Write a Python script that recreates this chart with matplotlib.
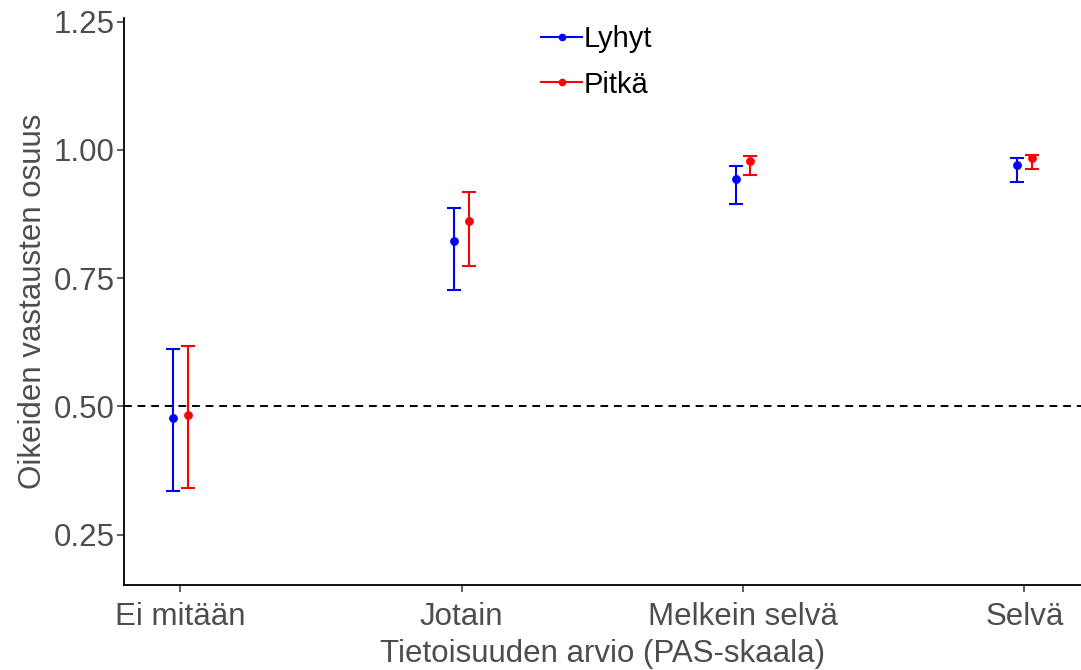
import numpy as np
import matplotlib
matplotlib.use("Agg")
import matplotlib.pyplot as plt

plt.rcParams["font.family"] = ["Liberation Sans", "DejaVu Sans"]

categories = ["Ei mitään", "Jotain", "Melkein selvä", "Selvä"]

# mean proportion of correct answers with lower/upper interval bounds
lyhyt_mean = [0.478, 0.822, 0.943, 0.971]
lyhyt_low = [0.336, 0.727, 0.895, 0.938]
lyhyt_high = [0.612, 0.886, 0.969, 0.984]

pitka_mean = [0.483, 0.861, 0.979, 0.984]
pitka_low = [0.341, 0.774, 0.951, 0.962]
pitka_high = [0.618, 0.918, 0.989, 0.990]

yticks = [0.25, 0.50, 0.75, 1.00, 1.25]

FS = 22.5


def draw_group(ax, xpos, mean, low, high, color, label):
    mean = np.asarray(mean)
    err = np.vstack([mean - np.asarray(low), np.asarray(high) - mean])
    ax.errorbar(xpos, mean, yerr=err, fmt="o", color=color, ecolor=color,
                markersize=5.3, elinewidth=1.5, capsize=4.7, capthick=1.5,
                label=label, zorder=3)


def main():
    fig = plt.figure(figsize=(10.81, 6.70), dpi=100)
    ax = fig.add_axes([0.1147, 0.127, 0.885, 0.846])

    x = np.arange(1, len(categories) + 1)
    dodge = 0.026

    ax.axhline(0.5, color="black", linestyle=(0, (4, 3)), linewidth=1.4, zorder=1)

    draw_group(ax, x - dodge, lyhyt_mean, lyhyt_low, lyhyt_high, "#0000ff", "Lyhyt")
    draw_group(ax, x + dodge, pitka_mean, pitka_low, pitka_high, "#ff0000", "Pitkä")

    ax.set_xlim(0.8, 4.2)
    ax.set_ylim(0.152, 1.257)
    ax.set_xticks(x)
    ax.set_xticklabels(categories)
    ax.set_yticks(yticks)
    ax.set_yticklabels([f"{v:.2f}" for v in yticks])

    for side in ("top", "right"):
        ax.spines[side].set_visible(False)
    for side in ("left", "bottom"):
        ax.spines[side].set_linewidth(1.3)
        ax.spines[side].set_color("black")

    ax.tick_params(axis="both", length=5, width=1.1, color="#333333",
                   labelsize=FS, labelcolor="#4d4d4d")
    ax.tick_params(axis="x", pad=7.5)
    ax.tick_params(axis="y", pad=2)

    ax.set_xlabel("Tietoisuuden arvio (PAS-skaala)", fontsize=FS,
                  color="#4d4d4d", labelpad=5)
    ax.set_ylabel("Oikeiden vastausten osuus", fontsize=FS,
                  color="#4d4d4d", labelpad=4)

    handles = []
    for color, label in (("#0000ff", "Lyhyt"), ("#ff0000", "Pitkä")):
        h, = ax.plot([], [], color=color, marker="o", markersize=4.5,
                     linewidth=1.5, label=label)
        handles.append(h)
    ax.legend(handles=handles, loc="upper center", bbox_to_anchor=(0.494, 1.034),
              frameon=False, fontsize=21, handlelength=1.4, handletextpad=0.05,
              labelspacing=0.6)

    fig.savefig("out.png", dpi=100)
    plt.close(fig)


if __name__ == "__main__":
    main()
